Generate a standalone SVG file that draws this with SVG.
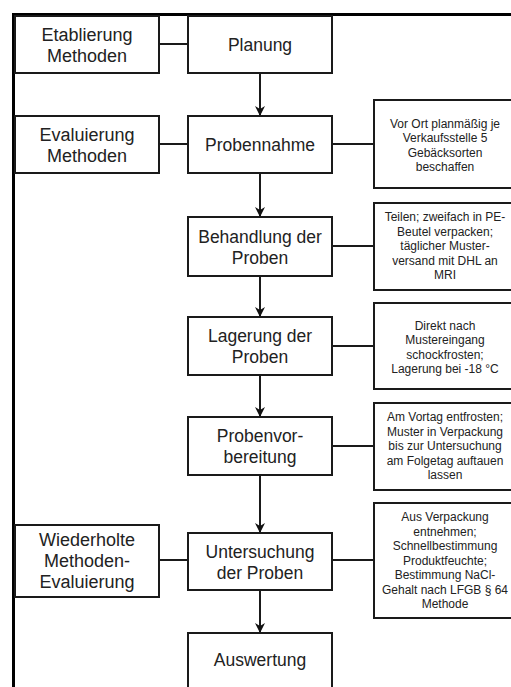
<svg xmlns="http://www.w3.org/2000/svg" width="511" height="687" viewBox="0 0 511 687">
<style>
.box{fill:#fff;stroke:#1a1a1a;stroke-width:2}
.frame{fill:none;stroke:#000;stroke-width:3}
.con{fill:none;stroke:#1a1a1a;stroke-width:2}
.t{font-family:"Liberation Sans",Arial,sans-serif;fill:#222;text-anchor:middle}
.m{font-size:17.5px}
.l{font-size:18px}
.s{font-size:12px}
</style>
<defs>
<marker id="ah" viewBox="0 0 10 10" refX="10" refY="5" markerWidth="10" markerHeight="10" markerUnits="userSpaceOnUse" orient="auto">
<path d="M0,0 L10,5 L0,10 L3,5 Z" fill="#111"/>
</marker>
</defs>
<rect width="511" height="687" fill="#fff"/>
<path class="frame" d="M13.5,700 V14.5 H520"/>
<g id="connectors">
<line class="con" x1="159" y1="44" x2="188" y2="44"/>
<line class="con" x1="159" y1="144" x2="188" y2="144"/>
<line class="con" x1="159" y1="560" x2="188" y2="560"/>
<line class="con" x1="332" y1="144" x2="374" y2="144"/>
<line class="con" x1="332" y1="246" x2="374" y2="246"/>
<line class="con" x1="332" y1="346" x2="374" y2="346"/>
<line class="con" x1="332" y1="446" x2="374" y2="446"/>
<line class="con" x1="332" y1="560" x2="374" y2="560"/>
<line class="con" x1="260" y1="73" x2="260" y2="116" marker-end="url(#ah)"/>
<line class="con" x1="260" y1="173" x2="260" y2="217" marker-end="url(#ah)"/>
<line class="con" x1="260" y1="276" x2="260" y2="317" marker-end="url(#ah)"/>
<line class="con" x1="260" y1="375" x2="260" y2="417" marker-end="url(#ah)"/>
<line class="con" x1="260" y1="475" x2="260" y2="533" marker-end="url(#ah)"/>
<line class="con" x1="260" y1="590" x2="260" y2="633" marker-end="url(#ah)"/>
</g>
<g id="etablierung">
<rect class="box" x="15" y="16" width="144" height="57"/>
<text class="t l" x="87" y="40.5">Etablierung<tspan x="87" dy="21">Methoden</tspan></text>
</g>
<g id="planung">
<rect class="box" x="188" y="16" width="144" height="57"/>
<text class="t m" x="260" y="50.5">Planung</text>
</g>
<g id="evaluierung">
<rect class="box" x="15" y="116" width="144" height="57"/>
<text class="t l" x="87" y="140.5">Evaluierung<tspan x="87" dy="21">Methoden</tspan></text>
</g>
<g id="probennahme">
<rect class="box" x="188" y="116" width="144" height="57"/>
<text class="t m" x="260" y="150.5">Probennahme</text>
</g>
<g id="vorort">
<rect class="box" x="374" y="100" width="142" height="88"/>
<text class="t s" x="445" y="127.5">Vor Ort planmäßig je<tspan x="445" dy="14.5">Verkaufsstelle 5</tspan><tspan x="445" dy="14.5">Gebäcksorten</tspan><tspan x="445" dy="14.5">beschaffen</tspan></text>
</g>
<g id="behandlung">
<rect class="box" x="188" y="217" width="144" height="59"/>
<text class="t m" x="260" y="242.5">Behandlung der<tspan x="260" dy="21">Proben</tspan></text>
</g>
<g id="teilen">
<rect class="box" x="374" y="203" width="142" height="87"/>
<text class="t s" x="445" y="221">Teilen; zweifach in PE-<tspan x="445" dy="14.5">Beutel verpacken;</tspan><tspan x="445" dy="14.5">täglicher Muster-</tspan><tspan x="445" dy="14.5">versand mit DHL an</tspan><tspan x="445" dy="14.5">MRI</tspan></text>
</g>
<g id="lagerung">
<rect class="box" x="188" y="317" width="144" height="58"/>
<text class="t m" x="260" y="342">Lagerung der<tspan x="260" dy="21">Proben</tspan></text>
</g>
<g id="direkt">
<rect class="box" x="374" y="303" width="142" height="86"/>
<text class="t s" x="445" y="329.5">Direkt nach<tspan x="445" dy="14.5">Mustereingang</tspan><tspan x="445" dy="14.5">schockfrosten;</tspan><tspan x="445" dy="14.5">Lagerung bei -18 °C</tspan></text>
</g>
<g id="probenvorbereitung">
<rect class="box" x="188" y="417" width="144" height="58"/>
<text class="t m" x="260" y="442">Probenvor-<tspan x="260" dy="21">bereitung</tspan></text>
</g>
<g id="amvortag">
<rect class="box" x="374" y="403" width="142" height="87"/>
<text class="t s" x="445" y="421">Am Vortag entfrosten;<tspan x="445" dy="14.5">Muster in Verpackung</tspan><tspan x="445" dy="14.5">bis zur Untersuchung</tspan><tspan x="445" dy="14.5">am Folgetag auftauen</tspan><tspan x="445" dy="14.5">lassen</tspan></text>
</g>
<g id="wiederholte">
<rect class="box" x="15" y="525" width="144" height="72"/>
<text class="t l" x="87" y="546">Wiederholte<tspan x="87" dy="21">Methoden-</tspan><tspan x="87" dy="21">Evaluierung</tspan></text>
</g>
<g id="untersuchung">
<rect class="box" x="188" y="533" width="144" height="57"/>
<text class="t m" x="260" y="557.5">Untersuchung<tspan x="260" dy="21">der Proben</tspan></text>
</g>
<g id="ausverpackung">
<rect class="box" x="374" y="503" width="142" height="115"/>
<text class="t s" x="445" y="521">Aus Verpackung<tspan x="445" dy="14.5">entnehmen;</tspan><tspan x="445" dy="14.5">Schnellbestimmung</tspan><tspan x="445" dy="14.5">Produktfeuchte;</tspan><tspan x="445" dy="14.5">Bestimmung NaCl-</tspan><tspan x="445" dy="14.5">Gehalt nach LFGB § 64</tspan><tspan x="445" dy="14.5">Methode</tspan></text>
</g>
<g id="auswertung">
<rect class="box" x="188" y="633" width="144" height="70"/>
<text class="t m" x="260" y="666">Auswertung</text>
</g>
</svg>
